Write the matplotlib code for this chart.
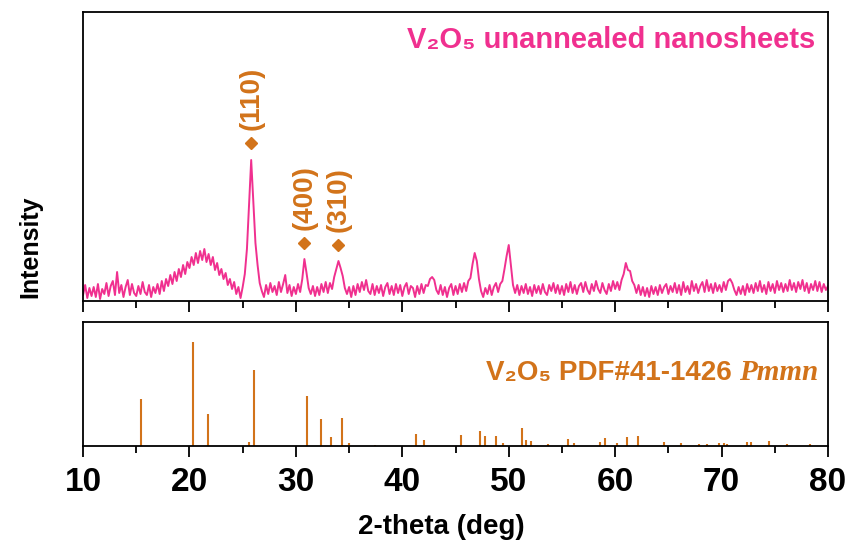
import numpy as np
import matplotlib.pyplot as plt

plt.rcParams['font.family'] = ['Liberation Sans', 'DejaVu Sans']
plt.rcParams['font.weight'] = 'bold'

pink = '#F0308F'
orange = '#D2731A'

# measured pattern, 2-theta from 10 to 80 in 0.2 deg steps (a.u.)
two_theta = np.round(np.arange(10, 80.01, 0.2), 1)
intensity = [
    6, 16, 3, 13, 5,        # 10
    14, 4, 17, 2, 12,       # 11
    7, 18, 5, 15, 20,       # 12
    6, 29, 8, 16, 4,        # 13
    14, 21, 6, 17, 8,       # 14
    5, 15, 7, 19, 9,        # 15
    6, 16, 4, 14, 8,        # 16
    17, 7, 20, 10, 22,      # 17
    15, 26, 17, 29, 20,     # 18
    32, 24, 36, 27, 39,     # 19
    33, 44, 36, 48, 38,     # 20
    50, 41, 52, 39, 47,     # 21
    36, 44, 31, 38, 26,     # 22
    32, 22, 28, 16, 22,     # 23
    12, 19, 7, 14, 3,       # 24
    14, 27, 52, 97, 141,    # 25
    100, 58, 36, 18, 10,    # 26
    4, 16, 7, 18, 9,        # 27
    15, 6, 19, 9, 17,       # 28
    26, 8, 16, 5, 14,       # 29
    7, 17, 9, 22, 42,       # 30
    28, 13, 7, 15, 5,       # 31
    14, 6, 17, 9, 19,       # 32
    8, 18, 12, 24, 32,      # 33
    40, 33, 25, 13, 7,      # 34
    14, 4, 15, 6, 17,       # 35
    9, 19, 11, 21, 10,      # 36
    7, 17, 6, 15, 8,        # 37
    16, 5, 14, 18, 7,       # 38
    15, 6, 17, 8, 16,       # 39
    5, 14, 18, 7, 15,       # 40
    13, 4, 15, 7, 17,       # 41
    8, 16, 15, 22, 24,      # 42
    21, 11, 7, 16, 6,       # 43
    14, 4, 13, 17, 6,       # 44
    15, 7, 17, 9, 18,       # 45
    10, 20, 23, 37, 48,     # 46
    40, 22, 10, 4, 13,      # 47
    7, 16, 6, 14, 18,       # 48
    9, 17, 20, 32, 45,      # 49
    56, 36, 16, 8, 16,      # 50
    6, 15, 8, 17, 7,        # 51
    14, 5, 16, 8, 15,       # 52
    7, 17, 9, 6, 16,        # 53
    10, 18, 8, 16, 7,       # 54
    15, 6, 17, 9, 19,       # 55
    8, 16, 7, 15, 18,       # 56
    9, 19, 11, 7, 17,       # 57
    10, 20, 12, 8, 18,      # 58
    11, 7, 17, 10, 20,      # 59
    12, 19, 11, 21, 27,     # 60
    38, 31, 30, 20, 16,     # 61
    8, 16, 6, 14, 5,        # 62
    13, 4, 15, 7, 14,       # 63
    6, 16, 8, 14, 17,       # 64
    7, 15, 9, 18, 8,        # 65
    16, 6, 19, 9, 15,       # 66
    7, 20, 10, 17, 8,       # 67
    15, 19, 9, 21, 10,      # 68
    17, 8, 18, 10, 16,      # 69
    9, 19, 11, 20, 22,      # 70
    18, 11, 6, 14, 7,       # 71
    15, 6, 17, 9, 16,       # 72
    8, 18, 10, 20, 9,       # 73
    16, 7, 19, 10, 17,      # 74
    8, 20, 11, 18, 9,       # 75
    17, 10, 21, 11, 18,     # 76
    9, 19, 12, 21, 10,      # 77
    18, 8, 17, 11, 20,      # 78
    10, 19, 9, 17, 11,      # 79
    15,                     # 80
]

# indexed peaks
peak_pos = [25.8, 30.8, 34.0]
peak_marker_y = [158, 58, 56]
peak_labels = ['(110)', '(400)', '(310)']

# reference card V2O5 PDF#41-1426
ref_pos = [15.4, 20.3, 21.7, 25.6, 26.1, 31.0, 32.4, 33.3, 34.3, 35.0, 37.4,
           41.3, 42.0, 45.5, 47.3, 47.8, 48.8, 49.5, 51.2, 51.6, 52.1, 53.7,
           55.6, 56.1, 58.6, 59.0, 60.2, 61.1, 62.1, 64.6, 66.2, 67.9, 68.6,
           69.8, 70.2, 70.5, 72.4, 72.8, 74.5, 76.1, 78.3]
ref_int = [47, 104, 32, 4, 76, 50, 27, 9, 28, 3, 1,
           12, 6, 11, 15, 10, 10, 3, 18, 6, 5, 2,
           7, 3, 4, 8, 3, 9, 10, 4, 3, 2, 2,
           3, 3, 2, 4, 4, 5, 2, 2]

fig = plt.figure(figsize=(8.49, 5.46), dpi=100)
ax1 = fig.add_axes([0.0978, 0.4487, 0.8775, 0.5293])
ax2 = fig.add_axes([0.0978, 0.1832, 0.8775, 0.2271])

ax1.plot(two_theta, intensity, color=pink, lw=1.4)
ax1.set_ylim(0, 289)
for x, y, lab in zip(peak_pos, peak_marker_y, peak_labels):
    ax1.plot(x, y, marker='D', ms=6, color=orange)
    ax1.text(x, y + 13, lab, rotation=90, ha='center', va='bottom',
             color=orange, fontsize=20, fontweight='bold')
ax1.text((815 - 83) / 745, 1 - (40 - 12) / 289, 'V\u2082O\u2085 unannealed nanosheets',
         transform=ax1.transAxes, ha='right', va='center', color=pink,
         fontsize=21, fontweight='bold')

ax2.vlines(ref_pos, 0, ref_int, color=orange, lw=1.5)
ax2.set_ylim(0, 124)
t2 = ax2.text((818 - 83) / 745, 1 - (373 - 322) / 124, 'Pmmn', transform=ax2.transAxes,
              ha='right', va='center', color=orange, fontsize=21,
              family='Liberation Serif', style='italic', fontweight='bold')
fig.canvas.draw()
bb = t2.get_window_extent()
fig.text((bb.x0 - 7) / fig.dpi / fig.get_figwidth(),
         (bb.y0 + bb.y1) / 2 / fig.dpi / fig.get_figheight(),
         'V\u2082O\u2085 PDF#41-1426', ha='right', va='center', color=orange,
         fontsize=20, fontweight='bold')

for ax in (ax1, ax2):
    ax.set_xlim(10, 80)
    ax.set_xticks(np.arange(10, 81, 10))
    ax.set_xticks(np.arange(15, 80, 10), minor=True)
    ax.set_yticks([])
    ax.tick_params(axis='x', which='major', direction='out', length=8, width=1.3)
    ax.tick_params(axis='x', which='minor', direction='out', length=5, width=1.3)
    for s in ax.spines.values():
        s.set_linewidth(1.3)
ax1.tick_params(axis='x', labelbottom=False)

for lab in ax2.get_xticklabels():
    lab.set_fontsize(24)
    lab.set_fontweight('bold')
ax2.tick_params(axis='x', pad=7)

fig.text(0.5195, 1 - 527 / 546, '2-theta (deg)', ha='center', va='center', fontsize=20,
         fontweight='bold')
fig.text(30 / 849, 1 - 247 / 546, 'Intensity', rotation=90, ha='center', va='center',
         fontsize=18, fontweight='bold')

fig.savefig('out.png', dpi=100)
